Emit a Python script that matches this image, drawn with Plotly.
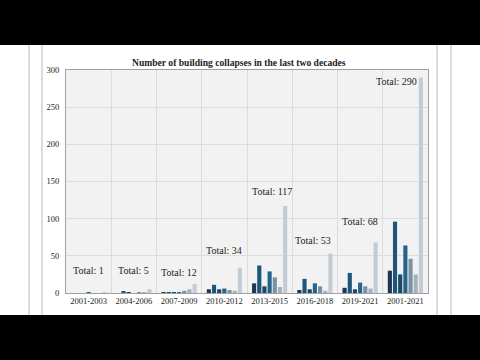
import plotly.graph_objects as go

periods = ["2001-2003", "2004-2006", "2007-2009", "2010-2012",
           "2013-2015", "2016-2018", "2019-2021", "2001-2021"]
series_1 = [0, 0, 1, 5, 13, 4, 7, 30]
series_2 = [0, 2, 1, 11, 37, 19, 27, 96]
series_3 = [0, 1, 1, 5, 9, 5, 5, 25]
series_4 = [1, 0, 1, 6, 29, 13, 14, 64]
series_5 = [0, 1, 3, 4, 21, 9, 9, 46]
series_6 = [0, 1, 5, 3, 8, 3, 6, 25]
totals = [1, 5, 12, 34, 117, 53, 68, 290]
total_labels = ["Total: %d" % t for t in totals]

# layout: annotation heights (in axis units) and small x shifts
label_y = [30, 30, 28, 57, 136, 70, 96, 284]
label_xshift = [0, 0, 0, 0, 2, -2, 0, -9]

colors = ["#1a3753", "#1d5679", "#1c4868", "#246489", "#7b90a5", "#a4b2bf"]
total_color = "#c3ccd5"
FONT = "Liberation Serif, Times New Roman, serif"

fig = go.Figure()
for vals, col in zip([series_1, series_2, series_3, series_4, series_5, series_6], colors):
    fig.add_trace(go.Bar(x=periods, y=vals, marker=dict(color=col, line=dict(width=0)),
                         showlegend=False))
fig.add_trace(go.Bar(x=periods, y=totals, marker=dict(color=total_color, line=dict(width=0)),
                     showlegend=False))

L, R, T, B = 66, 428, 70, 293
W, H = 480, 360
pw, ph = R - L, B - T


def px_x(p):
    return (p - L) / pw


def px_y(p):
    return (B - p) / ph


shapes = [
    # white page area
    dict(type="rect", xref="paper", yref="paper", x0=px_x(0), x1=px_x(W),
         y0=px_y(315), y1=px_y(45), fillcolor="white", line=dict(width=0), layer="below"),
    # plot background
    dict(type="rect", xref="paper", yref="paper", x0=0, x1=1, y0=0, y1=1,
         fillcolor="#f2f2f2", line=dict(width=0), layer="below"),
]
for xp in [29, 42, 437, 451]:
    shapes.append(dict(type="line", xref="paper", yref="paper", x0=px_x(xp), x1=px_x(xp),
                       y0=px_y(315), y1=px_y(45), line=dict(color="#b8b8b8", width=1),
                       layer="below"))

annotations = []
for p, txt, yy, xs in zip(periods, total_labels, label_y, label_xshift):
    annotations.append(dict(x=p, y=yy, text=txt, showarrow=False, xshift=xs,
                            font=dict(family=FONT, size=10, color="#222")))
annotations.append(dict(xref="paper", yref="paper", x=px_x(239), y=px_y(55),
                        text="<b>Number of building collapses in the last two decades</b>",
                        showarrow=False, font=dict(family=FONT, size=9.6, color="#222")))

fig.update_layout(
    width=W, height=H,
    margin=dict(l=L, r=W - R, t=T, b=H - B),
    paper_bgcolor="black",
    plot_bgcolor="rgba(0,0,0,0)",
    barmode="group", bargap=0.2, bargroupgap=0.2,
    shapes=shapes, annotations=annotations,
    font=dict(family=FONT, size=8.5, color="#222"),
    xaxis=dict(type="category", tickson="boundaries", ticks="", showgrid=True,
               tickangle=0,
               gridcolor="#dcdcdc", gridwidth=1, showline=True, linecolor="#a0a0a0",
               mirror=True, tickfont=dict(family=FONT, size=8.5, color="#222")),
    yaxis=dict(range=[0, 300], dtick=50, showgrid=True, gridcolor="#dcdcdc",
               zeroline=False, showline=True, linecolor="#a0a0a0", mirror=True,
               ticks="", ticklabelstandoff=4,
               tickfont=dict(family=FONT, size=8.5, color="#222")),
)

fig.write_html("out.html", config={"displayModeBar": False},
               post_script="document.body.style.margin='0';document.body.style.background='black';")
